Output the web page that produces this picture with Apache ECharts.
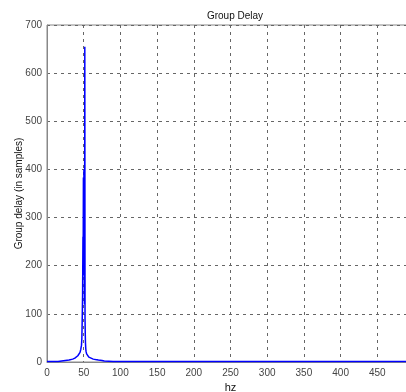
<!DOCTYPE html>
<html>
<head>
<meta charset="utf-8">
<script src="https://cdn.jsdelivr.net/npm/echarts@6/dist/echarts.min.js"></script>
<style>html,body{margin:0;padding:0;background:#fff}#c{width:406px;height:392px}</style>
</head>
<body>
<div id="c"></div>
<script>
var freqs = [0, 5, 10, 15, 20, 25, 30, 35, 38, 40, 42, 44, 45, 46, 47, 47.5, 48, 48.5, 49, 49.3, 49.6, 50, 50.3, 50.6, 50.9, 51.2, 51.5, 51.8, 52.1, 52.4, 52.8, 53.2, 54, 55, 57, 60, 63, 66, 70, 75, 78, 80, 90, 100, 150, 200, 250, 300, 350, 400, 450, 500];
var delay = [1, 1, 1, 1, 2, 3, 4, 6, 8, 10, 13, 17, 20, 26, 35, 50, 90, 140, 260, 220, 383, 180, 400, 230, 390, 120, 655, 90, 60, 40, 28, 22, 17, 13, 10, 8, 6, 5, 4, 3, 2, 1, 1, 1, 1, 1, 1, 1, 1, 1, 1, 1];
var xTicks = [0, 50, 100, 150, 200, 250, 300, 350, 400, 450];
var yTicks = [0, 100, 200, 300, 400, 500, 600, 700];

var chart = echarts.init(document.getElementById('c'), null, {renderer: 'canvas'});
var txt = '#444';
var font = 'Liberation Sans';
chart.setOption({
  backgroundColor: '#fff',
  animation: false,
  title: {
    text: 'Group Delay', left: 230, top: 6, textAlign: 'center',
    textStyle: {fontFamily: font, fontSize: 10, fontWeight: 'normal', color: '#111'}
  },
  grid: {left: 47, top: 25, bottom: 30, right: -8, outerBoundsMode: 'none', containLabel: false,
    show: true, borderColor: '#888', borderWidth: 1, backgroundColor: '#fff'},
  xAxis: {
    type: 'value', min: 0, max: 500, interval: 50,
    name: 'hz', nameLocation: 'middle', nameGap: 20, nameMoveOverlap: false,
    nameTextStyle: {fontFamily: font, fontSize: 11, color: '#111'},
    axisLine: {show: true, onZero: false, lineStyle: {color: '#888'}},
    axisTick: {show: false},
    axisLabel: {fontFamily: font, fontSize: 10, color: txt, margin: 6,
      formatter: function (v) { return xTicks.indexOf(v) >= 0 ? String(v) : ''; }},
    splitLine: {show: true, lineStyle: {color: '#666', type: [3, 4], width: 1}}
  },
  yAxis: {
    type: 'value', min: 0, max: 700, interval: 100,
    name: 'Group delay (in samples)', nameLocation: 'middle', nameGap: 23, nameMoveOverlap: false,
    nameTextStyle: {fontFamily: font, fontSize: 10, color: '#111'},
    axisLine: {show: true, lineStyle: {color: '#888'}},
    axisTick: {show: false},
    axisLabel: {fontFamily: font, fontSize: 10, color: txt, margin: 5,
      formatter: function (v) { return yTicks.indexOf(v) >= 0 ? String(v) : ''; }},
    splitLine: {show: true, lineStyle: {color: '#666', type: [3, 4], width: 1}}
  },
  series: [{
    type: 'line',
    data: freqs.map(function (f, i) { return [f, delay[i]]; }),
    showSymbol: false,
    lineStyle: {color: '#0000ff', width: 1.5},
    clip: true
  }]
});
</script>
</body>
</html>
